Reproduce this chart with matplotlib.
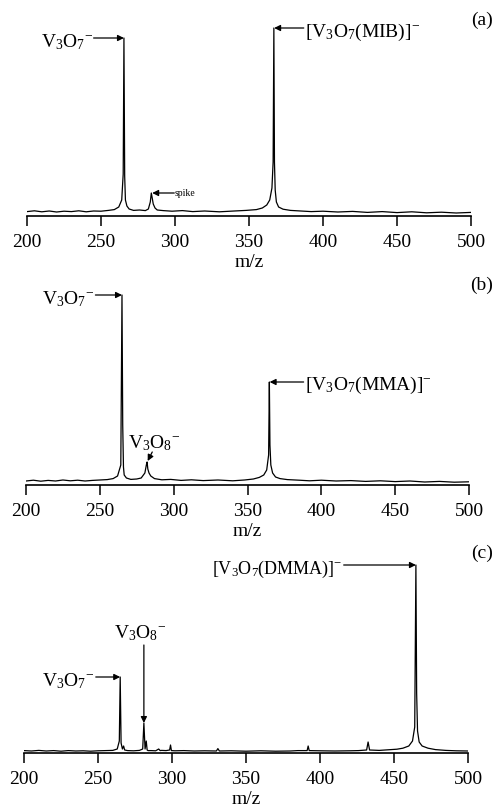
import matplotlib
matplotlib.use('Agg')
import matplotlib.pyplot as plt

plt.rcParams['font.family'] = ['Liberation Serif', 'DejaVu Serif']
plt.rcParams['mathtext.fontset'] = 'custom'
plt.rcParams['mathtext.rm'] = 'Liberation Serif'
plt.rcParams['mathtext.it'] = 'Liberation Serif:italic'

# spectrum traces (m/z, relative intensity)
mz_a = [200, 205, 210, 215, 220, 225, 230, 235, 240, 245,
        250, 255, 259, 262, 264, 265, 265.5, 266, 266.5, 267.5,
        269, 272, 276, 280, 282, 283.3, 284, 284.6, 285.3, 286.5,
        288, 292, 298, 305, 312, 320, 330, 340, 348, 355,
        359, 362, 364, 365.5, 366.3, 366.8, 367.2, 367.7, 368.5, 370,
        373, 378, 385, 392, 400, 410, 420, 430, 440, 450,
        460, 470, 480, 490, 500]
int_a = [0.022, 0.026, 0.021, 0.025, 0.020, 0.024, 0.022, 0.026, 0.021, 0.025,
         0.024, 0.028, 0.032, 0.045, 0.080, 0.210, 0.890, 0.200, 0.080, 0.050,
         0.035, 0.028, 0.030, 0.027, 0.035, 0.070, 0.115, 0.090, 0.060, 0.040,
         0.030, 0.027, 0.024, 0.027, 0.022, 0.025, 0.021, 0.025, 0.028, 0.032,
         0.040, 0.055, 0.080, 0.140, 0.270, 0.940, 0.270, 0.130, 0.070, 0.045,
         0.034, 0.028, 0.025, 0.022, 0.024, 0.020, 0.023, 0.018, 0.022, 0.017,
         0.021, 0.016, 0.019, 0.015, 0.018]

mz_b = [200, 205, 210, 215, 220, 225, 230, 235, 240, 245,
        250, 255, 259, 262, 264.2, 265.0, 265.5, 266.0, 266.5, 268,
        271, 275, 278, 280.5, 281.5, 282, 282.5, 283.3, 284.5, 287,
        292, 298, 305, 312, 320, 330, 340, 348, 354, 358,
        361, 363, 364.3, 364.8, 365.2, 365.8, 367, 369, 372, 377,
        385, 392, 400, 410, 420, 430, 440, 450, 460, 470,
        480, 490, 500]
int_b = [0.020, 0.024, 0.019, 0.023, 0.020, 0.025, 0.021, 0.024, 0.020, 0.023,
         0.025, 0.027, 0.032, 0.045, 0.100, 0.950, 0.300, 0.090, 0.050, 0.035,
         0.028, 0.030, 0.035, 0.060, 0.100, 0.115, 0.080, 0.060, 0.045, 0.032,
         0.026, 0.028, 0.023, 0.026, 0.022, 0.025, 0.021, 0.025, 0.030, 0.038,
         0.050, 0.075, 0.150, 0.515, 0.200, 0.100, 0.060, 0.040, 0.032, 0.027,
         0.024, 0.021, 0.024, 0.020, 0.022, 0.018, 0.021, 0.017, 0.020, 0.015,
         0.018, 0.014, 0.016]

mz_c = [200, 205, 210, 215, 220, 225, 230, 235, 240, 245,
        250, 255, 260, 263, 264.4, 265, 265.6, 266.5, 267.3, 268,
        270, 274, 278, 280.2, 281, 281.8, 282.6, 283.2, 283.8, 286,
        289, 291, 292, 293, 296, 298.4, 299, 299.6, 302, 308,
        315, 322, 330, 331, 332, 340, 350, 360, 370, 380,
        385, 391.3, 392, 392.7, 400, 410, 420, 426, 431.5, 432.5,
        433.5, 440, 446, 452, 456, 460, 462.5, 464, 464.8, 465.3,
        465.9, 467, 469, 473, 478, 485, 492, 500]
int_c = [0.012, 0.010, 0.013, 0.010, 0.012, 0.009, 0.012, 0.010, 0.011, 0.009,
         0.011, 0.012, 0.013, 0.020, 0.060, 0.380, 0.050, 0.020, 0.035, 0.015,
         0.012, 0.011, 0.013, 0.020, 0.150, 0.020, 0.060, 0.015, 0.012, 0.012,
         0.011, 0.020, 0.012, 0.013, 0.012, 0.015, 0.040, 0.012, 0.011, 0.012,
         0.010, 0.011, 0.010, 0.022, 0.010, 0.011, 0.009, 0.011, 0.009, 0.010,
         0.012, 0.012, 0.035, 0.012, 0.011, 0.010, 0.011, 0.012, 0.015, 0.055,
         0.015, 0.013, 0.016, 0.019, 0.024, 0.035, 0.060, 0.130, 0.940, 0.300,
         0.110, 0.055, 0.035, 0.024, 0.017, 0.013, 0.011, 0.010]

xticks = [200, 250, 300, 350, 400, 450, 500]

W, H = 495, 810
fig = plt.figure(figsize=(W / 100, H / 100), dpi=100)


def make_axes(left, bottom, width):
    ax = fig.add_axes([left / W, 1 - bottom / H, width / W, 200 / H])
    ax.set_xlim(200, 500)
    ax.set_ylim(0, 1)
    for s in ['top', 'left', 'right']:
        ax.spines[s].set_visible(False)
    ax.spines['bottom'].set_linewidth(1.2)
    ax.set_yticks([])
    ax.set_xticks(xticks)
    ax.tick_params(axis='x', direction='out', length=7, width=1.1,
                   labelsize=14, pad=6)
    ax.set_xlabel('m/z', fontsize=14, labelpad=2)
    return ax


def arrow(ax, head, tail):
    ax.annotate('', xy=head, xytext=tail,
                arrowprops=dict(arrowstyle='-|>', lw=0.9, color='black',
                                mutation_scale=9, shrinkA=0, shrinkB=0),
                annotation_clip=False)


lab = dict(fontsize=14, va='center', clip_on=False)

# (a)
ax = make_axes(27, 216, 444)
ax.plot(mz_a, int_a, color='black', lw=0.9)
ax.text(244.5, 0.87, r'V$_3$O$_7$$^{-}$', ha='right', **lab)
arrow(ax, (265.5, 0.89), (245, 0.89))
ax.text(388, 0.92, r'[V$_3$O$_7$(MIB)]$^{-}$', ha='left', **lab)
arrow(ax, (367, 0.94), (387, 0.94))
ax.text(300, 0.115, 'spike', ha='left', va='center', fontsize=7)
arrow(ax, (284.6, 0.115), (299.5, 0.115))

# (b)
ax = make_axes(26, 485, 443)
ax.plot(mz_b, int_b, color='black', lw=0.9)
ax.text(246, 0.93, r'V$_3$O$_7$$^{-}$', ha='right', **lab)
arrow(ax, (265, 0.95), (247, 0.95))
ax.text(287, 0.21, r'V$_3$O$_8$$^{-}$', ha='center', **lab)
arrow(ax, (282.4, 0.12), (285.5, 0.165))
ax.text(389, 0.50, r'[V$_3$O$_7$(MMA)]$^{-}$', ha='left', **lab)
arrow(ax, (365, 0.515), (388, 0.515))

# (c)
ax = make_axes(24, 753, 444)
ax.plot(mz_c, int_c, color='black', lw=0.9)
ax.text(415, 0.92, r'[V$_3$O$_7$(DMMA)]$^{-}$', ha='right', fontsize=13,
        va='center', clip_on=False)
arrow(ax, (464.8, 0.94), (416, 0.94))
ax.text(278.5, 0.60, r'V$_3$O$_8$$^{-}$', ha='center', **lab)
arrow(ax, (281, 0.15), (281, 0.54))
ax.text(247.5, 0.36, r'V$_3$O$_7$$^{-}$', ha='right', **lab)
arrow(ax, (265, 0.38), (248.5, 0.38))

for t, y in [('(a)', 20), ('(b)', 285), ('(c)', 553)]:
    fig.text(482 / W, 1 - y / H, t, ha='center', va='center', fontsize=14)

fig.savefig('out.png', dpi=100)
